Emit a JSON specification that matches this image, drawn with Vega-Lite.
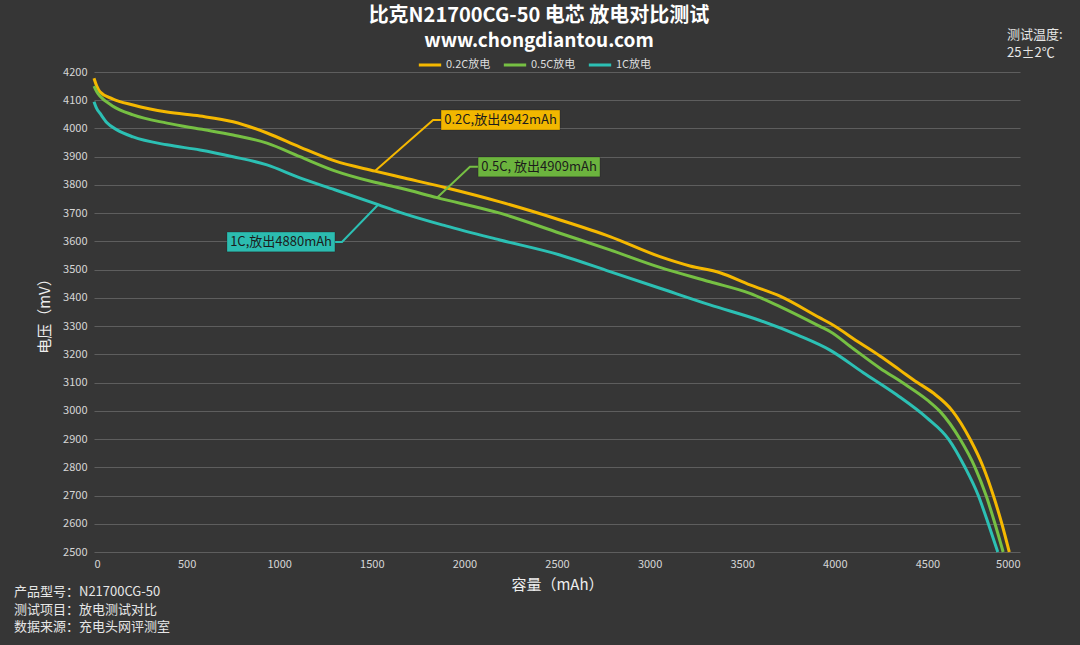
{
  "$schema": "https://vega.github.io/schema/vega-lite/v6.json",
  "autosize": {"type": "none"},
  "width": 926,
  "height": 480,
  "padding": {"left": 94, "top": 72, "right": 60, "bottom": 93},
  "background": "#363636",
  "config": {
    "font": "Noto Sans CJK SC",
    "view": {"stroke": null, "fill": {"gradient": "radial", "x1": 0.5, "y1": 0.5, "x2": 0.5, "y2": 0.5, "r1": 0, "r2": 0.75, "stops": [{"offset": 0, "color": "#4c4c4c"}, {"offset": 1, "color": "#393939"}]}}
  },
  "title": {
    "text": "比克N21700CG-50 电芯 放电对比测试",
    "subtitle": "www.chongdiantou.com",
    "fontSize": 20,
    "fontWeight": "bold",
    "color": "#ffffff",
    "subtitleFontSize": 19,
    "subtitleFontWeight": "bold",
    "subtitleColor": "#ffffff",
    "subtitlePadding": 6,
    "anchor": "middle",
    "offset": -22,
    "dx": -18
  },
  "datasets": {
    "curves": [
      {"series": "0.2C放电", "mAh": 0, "mV": 4178},
      {"series": "0.2C放电", "mAh": 15, "mV": 4150},
      {"series": "0.2C放电", "mAh": 32, "mV": 4130},
      {"series": "0.2C放电", "mAh": 100, "mV": 4105},
      {"series": "0.2C放电", "mAh": 211, "mV": 4083},
      {"series": "0.2C放电", "mAh": 394, "mV": 4058},
      {"series": "0.2C放电", "mAh": 572, "mV": 4044},
      {"series": "0.2C放电", "mAh": 751, "mV": 4024},
      {"series": "0.2C放电", "mAh": 934, "mV": 3984},
      {"series": "0.2C放电", "mAh": 1112, "mV": 3934},
      {"series": "0.2C放电", "mAh": 1300, "mV": 3885},
      {"series": "0.2C放电", "mAh": 1517, "mV": 3849},
      {"series": "0.2C放电", "mAh": 1652, "mV": 3828},
      {"series": "0.2C放电", "mAh": 1900, "mV": 3790},
      {"series": "0.2C放电", "mAh": 2192, "mV": 3740},
      {"series": "0.2C放电", "mAh": 2516, "mV": 3676},
      {"series": "0.2C放电", "mAh": 2786, "mV": 3617},
      {"series": "0.2C放电", "mAh": 3056, "mV": 3546},
      {"series": "0.2C放电", "mAh": 3218, "mV": 3513},
      {"series": "0.2C放电", "mAh": 3380, "mV": 3489},
      {"series": "0.2C放电", "mAh": 3542, "mV": 3446},
      {"series": "0.2C放电", "mAh": 3704, "mV": 3406},
      {"series": "0.2C放电", "mAh": 3920, "mV": 3329},
      {"series": "0.2C放电", "mAh": 3974, "mV": 3310},
      {"series": "0.2C放电", "mAh": 4136, "mV": 3240},
      {"series": "0.2C放电", "mAh": 4244, "mV": 3194},
      {"series": "0.2C放电", "mAh": 4350, "mV": 3145},
      {"series": "0.2C放电", "mAh": 4442, "mV": 3102},
      {"series": "0.2C放电", "mAh": 4530, "mV": 3064},
      {"series": "0.2C放电", "mAh": 4635, "mV": 3000},
      {"series": "0.2C放电", "mAh": 4730, "mV": 2900},
      {"series": "0.2C放电", "mAh": 4802, "mV": 2800},
      {"series": "0.2C放电", "mAh": 4856, "mV": 2700},
      {"series": "0.2C放电", "mAh": 4902, "mV": 2600},
      {"series": "0.2C放电", "mAh": 4942, "mV": 2500},
      {"series": "0.5C放电", "mAh": 0, "mV": 4150},
      {"series": "0.5C放电", "mAh": 15, "mV": 4130},
      {"series": "0.5C放电", "mAh": 32, "mV": 4115},
      {"series": "0.5C放电", "mAh": 100, "mV": 4080},
      {"series": "0.5C放电", "mAh": 211, "mV": 4048},
      {"series": "0.5C放电", "mAh": 394, "mV": 4019},
      {"series": "0.5C放电", "mAh": 572, "mV": 3998},
      {"series": "0.5C放电", "mAh": 751, "mV": 3977},
      {"series": "0.5C放电", "mAh": 934, "mV": 3948},
      {"series": "0.5C放电", "mAh": 1112, "mV": 3900},
      {"series": "0.5C放电", "mAh": 1300, "mV": 3850},
      {"series": "0.5C放电", "mAh": 1500, "mV": 3812},
      {"series": "0.5C放电", "mAh": 1652, "mV": 3789},
      {"series": "0.5C放电", "mAh": 1852, "mV": 3755},
      {"series": "0.5C放电", "mAh": 2192, "mV": 3700},
      {"series": "0.5C放电", "mAh": 2516, "mV": 3629},
      {"series": "0.5C放电", "mAh": 2786, "mV": 3570},
      {"series": "0.5C放电", "mAh": 3056, "mV": 3508},
      {"series": "0.5C放电", "mAh": 3326, "mV": 3457},
      {"series": "0.5C放电", "mAh": 3542, "mV": 3416},
      {"series": "0.5C放电", "mAh": 3704, "mV": 3369},
      {"series": "0.5C放电", "mAh": 3920, "mV": 3299},
      {"series": "0.5C放电", "mAh": 3974, "mV": 3281},
      {"series": "0.5C放电", "mAh": 4100, "mV": 3220},
      {"series": "0.5C放电", "mAh": 4244, "mV": 3151},
      {"series": "0.5C放电", "mAh": 4379, "mV": 3094},
      {"series": "0.5C放电", "mAh": 4500, "mV": 3038},
      {"series": "0.5C放电", "mAh": 4568, "mV": 2998},
      {"series": "0.5C放电", "mAh": 4676, "mV": 2900},
      {"series": "0.5C放电", "mAh": 4757, "mV": 2800},
      {"series": "0.5C放电", "mAh": 4817, "mV": 2700},
      {"series": "0.5C放电", "mAh": 4865, "mV": 2600},
      {"series": "0.5C放电", "mAh": 4909, "mV": 2500},
      {"series": "1C放电", "mAh": 0, "mV": 4095},
      {"series": "1C放电", "mAh": 15, "mV": 4070},
      {"series": "1C放电", "mAh": 32, "mV": 4054},
      {"series": "1C放电", "mAh": 70, "mV": 4020},
      {"series": "1C放电", "mAh": 124, "mV": 3995},
      {"series": "1C放电", "mAh": 211, "mV": 3970},
      {"series": "1C放电", "mAh": 394, "mV": 3942},
      {"series": "1C放电", "mAh": 572, "mV": 3924},
      {"series": "1C放电", "mAh": 751, "mV": 3900},
      {"series": "1C放电", "mAh": 934, "mV": 3871},
      {"series": "1C放电", "mAh": 1112, "mV": 3825},
      {"series": "1C放电", "mAh": 1300, "mV": 3783},
      {"series": "1C放电", "mAh": 1534, "mV": 3730},
      {"series": "1C放电", "mAh": 1652, "mV": 3703},
      {"series": "1C放电", "mAh": 1900, "mV": 3655},
      {"series": "1C放电", "mAh": 2192, "mV": 3605},
      {"series": "1C放电", "mAh": 2516, "mV": 3552},
      {"series": "1C放电", "mAh": 2786, "mV": 3493},
      {"series": "1C放电", "mAh": 3056, "mV": 3434},
      {"series": "1C放电", "mAh": 3326, "mV": 3375},
      {"series": "1C放电", "mAh": 3596, "mV": 3320},
      {"series": "1C放电", "mAh": 3800, "mV": 3268},
      {"series": "1C放电", "mAh": 3974, "mV": 3215},
      {"series": "1C放电", "mAh": 4154, "mV": 3135},
      {"series": "1C放电", "mAh": 4334, "mV": 3057},
      {"series": "1C放电", "mAh": 4496, "mV": 2976},
      {"series": "1C放电", "mAh": 4614, "mV": 2900},
      {"series": "1C放电", "mAh": 4703, "mV": 2800},
      {"series": "1C放电", "mAh": 4775, "mV": 2700},
      {"series": "1C放电", "mAh": 4829, "mV": 2600},
      {"series": "1C放电", "mAh": 4880, "mV": 2500}
    ],
    "leaders": [
      {"series": "0.2C放电", "k": 1, "mAh": 1517, "mV": 3849},
      {"series": "0.2C放电", "k": 2, "mAh": 1831, "mV": 4030},
      {"series": "0.2C放电", "k": 3, "mAh": 1874, "mV": 4030},
      {"series": "0.5C放电", "k": 1, "mAh": 1852, "mV": 3755},
      {"series": "0.5C放电", "k": 2, "mAh": 2030, "mV": 3864},
      {"series": "0.5C放电", "k": 3, "mAh": 2074, "mV": 3864},
      {"series": "1C放电", "k": 1, "mAh": 1534, "mV": 3730},
      {"series": "1C放电", "k": 2, "mAh": 1339, "mV": 3598},
      {"series": "1C放电", "k": 3, "mAh": 1301, "mV": 3598}
    ],
    "labels": [
      {"series": "0.2C放电", "label": "0.2C,放出4942mAh", "x1": 1874, "x2": 2516, "y1": 4065, "y2": 3995, "cx": 2195, "cy": 4030},
      {"series": "0.5C放电", "label": "0.5C, 放出4909mAh", "x1": 2074, "x2": 2732, "y1": 3899, "y2": 3829, "cx": 2403, "cy": 3864},
      {"series": "1C放电", "label": "1C,放出4880mAh", "x1": 718, "x2": 1301, "y1": 3633, "y2": 3563, "cx": 1010, "cy": 3598}
    ]
  },
  "layer": [
    {
      "data": {"name": "curves"},
      "mark": {"type": "line", "strokeWidth": 3, "interpolate": "monotone"},
      "encoding": {
        "x": {"field": "mAh", "type": "quantitative", "scale": {"domain": [0, 5000], "nice": false},
          "axis": {"title": "容量（mAh）", "format": "d", "values": [0, 500, 1000, 1500, 2000, 2500, 3000, 3500, 4000, 4500, 5000], "grid": false, "domain": false, "ticks": false, "labelColor": "#d6d6d6", "labelFontSize": 11, "labelPadding": 6, "titleColor": "#eeeeee", "titleFontSize": 15, "titleFontWeight": "normal", "titlePadding": 8}},
        "y": {"field": "mV", "type": "quantitative", "scale": {"domain": [2500, 4200], "nice": false, "zero": false},
          "axis": {"title": "电压（mV）", "format": "d", "labelOverlap": false, "values": [2500, 2600, 2700, 2800, 2900, 3000, 3100, 3200, 3300, 3400, 3500, 3600, 3700, 3800, 3900, 4000, 4100, 4200], "grid": true, "gridColor": "#5e5e5e", "gridWidth": 1, "domain": false, "ticks": false, "labelColor": "#d6d6d6", "labelFontSize": 11, "labelPadding": 7, "titleColor": "#eeeeee", "titleFontSize": 15, "titleFontWeight": "normal", "titlePadding": 10}},
        "color": {"field": "series", "type": "nominal",
          "scale": {"domain": ["0.2C放电", "0.5C放电", "1C放电"], "range": ["#f5b800", "#76c043", "#2cc0b4"]},
          "legend": {"orient": "none", "legendX": 323, "legendY": -20, "direction": "horizontal", "title": null, "symbolType": "stroke", "symbolStrokeWidth": 3, "symbolSize": 500, "labelColor": "#dddddd", "labelFontSize": 11, "columnPadding": 6, "labelOffset": 3}},
        "detail": {"field": "series"}
      }
    },
    {
      "data": {"name": "leaders"},
      "mark": {"type": "line", "strokeWidth": 2},
      "encoding": {
        "x": {"field": "mAh", "type": "quantitative",
          "axis": {"title": "容量（mAh）", "format": "d", "values": [0, 500, 1000, 1500, 2000, 2500, 3000, 3500, 4000, 4500, 5000], "grid": false, "domain": false, "ticks": false, "labelColor": "#d6d6d6", "labelFontSize": 11, "labelPadding": 6, "titleColor": "#eeeeee", "titleFontSize": 15, "titleFontWeight": "normal", "titlePadding": 8}},
        "y": {"field": "mV", "type": "quantitative",
          "axis": {"title": "电压（mV）", "format": "d", "labelOverlap": false, "values": [2500, 2600, 2700, 2800, 2900, 3000, 3100, 3200, 3300, 3400, 3500, 3600, 3700, 3800, 3900, 4000, 4100, 4200], "grid": true, "gridColor": "#5e5e5e", "gridWidth": 1, "domain": false, "ticks": false, "labelColor": "#d6d6d6", "labelFontSize": 11, "labelPadding": 7, "titleColor": "#eeeeee", "titleFontSize": 15, "titleFontWeight": "normal", "titlePadding": 10}},
        "color": {"field": "series", "type": "nominal"},
        "order": {"field": "k"},
        "detail": {"field": "series"}
      }
    },
    {
      "data": {"name": "labels"},
      "mark": {"type": "rect", "stroke": "#00000033", "strokeWidth": 1},
      "encoding": {
        "x": {"field": "x1", "type": "quantitative",
          "axis": {"title": "容量（mAh）", "format": "d", "values": [0, 500, 1000, 1500, 2000, 2500, 3000, 3500, 4000, 4500, 5000], "grid": false, "domain": false, "ticks": false, "labelColor": "#d6d6d6", "labelFontSize": 11, "labelPadding": 6, "titleColor": "#eeeeee", "titleFontSize": 15, "titleFontWeight": "normal", "titlePadding": 8}},
        "x2": {"field": "x2"},
        "y": {"field": "y1", "type": "quantitative",
          "axis": {"title": "电压（mV）", "format": "d", "labelOverlap": false, "values": [2500, 2600, 2700, 2800, 2900, 3000, 3100, 3200, 3300, 3400, 3500, 3600, 3700, 3800, 3900, 4000, 4100, 4200], "grid": true, "gridColor": "#5e5e5e", "gridWidth": 1, "domain": false, "ticks": false, "labelColor": "#d6d6d6", "labelFontSize": 11, "labelPadding": 7, "titleColor": "#eeeeee", "titleFontSize": 15, "titleFontWeight": "normal", "titlePadding": 10}},
        "y2": {"field": "y2"},
        "fill": {"field": "series", "type": "nominal", "scale": {"domain": ["0.2C放电", "0.5C放电", "1C放电"], "range": ["#f2b700", "#6cb43e", "#2cbcb0"]}, "legend": null}
      }
    },
    {
      "data": {"name": "labels"},
      "mark": {"type": "text", "fontSize": 13, "color": "#1c1c1c", "align": "center", "baseline": "middle"},
      "encoding": {
        "x": {"field": "cx", "type": "quantitative",
          "axis": {"title": "容量（mAh）", "format": "d", "values": [0, 500, 1000, 1500, 2000, 2500, 3000, 3500, 4000, 4500, 5000], "grid": false, "domain": false, "ticks": false, "labelColor": "#d6d6d6", "labelFontSize": 11, "labelPadding": 6, "titleColor": "#eeeeee", "titleFontSize": 15, "titleFontWeight": "normal", "titlePadding": 8}},
        "y": {"field": "cy", "type": "quantitative",
          "axis": {"title": "电压（mV）", "format": "d", "labelOverlap": false, "values": [2500, 2600, 2700, 2800, 2900, 3000, 3100, 3200, 3300, 3400, 3500, 3600, 3700, 3800, 3900, 4000, 4100, 4200], "grid": true, "gridColor": "#5e5e5e", "gridWidth": 1, "domain": false, "ticks": false, "labelColor": "#d6d6d6", "labelFontSize": 11, "labelPadding": 7, "titleColor": "#eeeeee", "titleFontSize": 15, "titleFontWeight": "normal", "titlePadding": 10}},
        "text": {"field": "label"}
      }
    },
    {
      "data": {"values": [{"t": "产品型号：N21700CG-50\n测试项目：放电测试对比\n数据来源：充电头网评测室"}]},
      "mark": {"type": "text", "fontSize": 13, "color": "#e6e6e6", "align": "left", "baseline": "top", "lineBreak": "\n", "lineHeight": 17.5, "x": -80, "y": 514},
      "encoding": {"text": {"field": "t"}}
    },
    {
      "data": {"values": [{"t": "测试温度:\n25±2℃"}]},
      "mark": {"type": "text", "fontSize": 13, "color": "#e6e6e6", "align": "left", "baseline": "top", "lineBreak": "\n", "lineHeight": 18, "x": 913, "y": -43},
      "encoding": {"text": {"field": "t"}}
    }
  ]
}
